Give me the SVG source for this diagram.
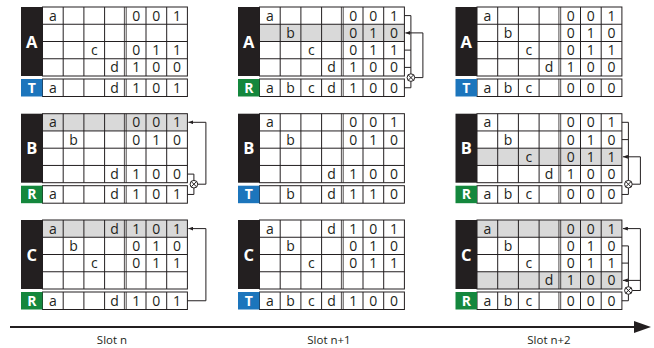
<svg xmlns="http://www.w3.org/2000/svg" xmlns:xlink="http://www.w3.org/1999/xlink" width="654" height="348" viewBox="0 0 654 348">
<style>
.gl{fill:none;stroke:#231f20;stroke-width:1}
.dl{fill:none;stroke:#231f20;stroke-width:0.8}
.hl{fill:#d9d9d9}
.bar{fill:#231f20}
.tb{fill:#1c75bc}
.rb{fill:#14873d}
.ct{font-family:"Open Sans","Liberation Sans",sans-serif;font-size:14px;fill:#231f20;text-anchor:middle}
.bl{font-family:"Open Sans","Liberation Sans",sans-serif;font-weight:bold;font-size:16.5px;fill:#fff;text-anchor:middle}
.sl{font-family:"Open Sans","Liberation Sans",sans-serif;font-weight:bold;font-size:14px;fill:#fff;text-anchor:middle}
.cn{fill:none;stroke:#231f20;stroke-width:1}
.ax{font-family:"Open Sans","Liberation Sans",sans-serif;font-size:11.5px;fill:#231f20;text-anchor:middle}
</style>
<defs>
<g id="grid">
<rect class="gl" x="21.5" y="0" width="144.9" height="69"/>
<path class="gl" d="M21.5 17.25H166.4M21.5 34.5H166.4M21.5 51.75H166.4M42.2 0V69M62.9 0V69M83.6 0V69M125 0V69M145.7 0V69"/>
<path class="dl" d="M103.4 0V69M105.2 0V69M103.4 72V89.5M105.2 72V89.5"/>
<rect class="gl" x="21.5" y="72" width="144.9" height="17.5"/>
<path class="gl" d="M42.2 72V89.5M62.9 72V89.5M83.6 72V89.5M125 72V89.5M145.7 72V89.5"/>
</g>
<g id="xor" class="cn"><circle r="3.8"/><path d="M-2.7 -2.7L2.7 2.7M2.7 -2.7L-2.7 2.7"/></g>
<marker id="ah" markerUnits="userSpaceOnUse" markerWidth="5" markerHeight="4" refX="5" refY="2" orient="auto"><path d="M0 0L5 2L0 4z" fill="#231f20"/></marker>
</defs>
<rect width="654" height="348" fill="#fff"/>

<!-- Slot n -->
<g id="A-slot-n" transform="translate(21,7)">
<use href="#grid"/>
<rect class="bar" width="21.5" height="69"/><text class="bl" x="10.75" y="40.5">A</text>
<rect class="tb" y="72" width="21.5" height="17.5"/><text class="sl" x="10.75" y="85.8">T</text>
<text class="ct" x="31.85" y="13.6">a</text><text class="ct" x="115.15" y="13.6">0</text><text class="ct" x="135.35" y="13.6">0</text><text class="ct" x="156.05" y="13.6">1</text>
<text class="ct" x="73.25" y="48.1">c</text><text class="ct" x="115.15" y="48.1">0</text><text class="ct" x="135.35" y="48.1">1</text><text class="ct" x="156.05" y="48.1">1</text>
<text class="ct" x="93.45" y="65.4">d</text><text class="ct" x="115.15" y="65.4">1</text><text class="ct" x="135.35" y="65.4">0</text><text class="ct" x="156.05" y="65.4">0</text>
<text class="ct" x="31.85" y="85.7">a</text><text class="ct" x="93.45" y="85.7">d</text><text class="ct" x="115.15" y="85.7">1</text><text class="ct" x="135.35" y="85.7">0</text><text class="ct" x="156.05" y="85.7">1</text>
</g>

<g id="B-slot-n" transform="translate(21,113.7)">
<rect class="hl" x="21.5" y="0" width="144.9" height="17.25"/>
<use href="#grid"/>
<rect class="bar" width="21.5" height="69"/><text class="bl" x="10.75" y="40.5">B</text>
<rect class="rb" y="72" width="21.5" height="17.5"/><text class="sl" x="10.75" y="85.8">R</text>
<text class="ct" x="31.85" y="13.6">a</text><text class="ct" x="115.15" y="13.6">0</text><text class="ct" x="135.35" y="13.6">0</text><text class="ct" x="156.05" y="13.6">1</text>
<text class="ct" x="52.55" y="30.9">b</text><text class="ct" x="115.15" y="30.9">0</text><text class="ct" x="135.35" y="30.9">1</text><text class="ct" x="156.05" y="30.9">0</text>
<text class="ct" x="93.45" y="65.4">d</text><text class="ct" x="115.15" y="65.4">1</text><text class="ct" x="135.35" y="65.4">0</text><text class="ct" x="156.05" y="65.4">0</text>
<text class="ct" x="31.85" y="85.7">a</text><text class="ct" x="93.45" y="85.7">d</text><text class="ct" x="115.15" y="85.7">1</text><text class="ct" x="135.35" y="85.7">0</text><text class="ct" x="156.05" y="85.7">1</text>
</g>

<g id="C-slot-n" transform="translate(21,220)">
<rect class="hl" x="21.5" y="0" width="144.9" height="17.25"/>
<use href="#grid"/>
<rect class="bar" width="21.5" height="69"/><text class="bl" x="10.75" y="40.5">C</text>
<rect class="rb" y="72" width="21.5" height="17.5"/><text class="sl" x="10.75" y="85.8">R</text>
<text class="ct" x="31.85" y="13.6">a</text><text class="ct" x="93.45" y="13.6">d</text><text class="ct" x="115.15" y="13.6">1</text><text class="ct" x="135.35" y="13.6">0</text><text class="ct" x="156.05" y="13.6">1</text>
<text class="ct" x="52.55" y="30.9">b</text><text class="ct" x="115.15" y="30.9">0</text><text class="ct" x="135.35" y="30.9">1</text><text class="ct" x="156.05" y="30.9">0</text>
<text class="ct" x="73.25" y="48.1">c</text><text class="ct" x="115.15" y="48.1">0</text><text class="ct" x="135.35" y="48.1">1</text><text class="ct" x="156.05" y="48.1">1</text>
<text class="ct" x="31.85" y="85.7">a</text><text class="ct" x="93.45" y="85.7">d</text><text class="ct" x="115.15" y="85.7">1</text><text class="ct" x="135.35" y="85.7">0</text><text class="ct" x="156.05" y="85.7">1</text>
</g>

<!-- Slot n+1 -->
<g id="A-slot-n1" transform="translate(238,7)">
<rect class="hl" x="21.5" y="17.25" width="144.9" height="17.25"/>
<use href="#grid"/>
<rect class="bar" width="21.5" height="69"/><text class="bl" x="10.75" y="40.5">A</text>
<rect class="rb" y="72" width="21.5" height="17.5"/><text class="sl" x="10.75" y="85.8">R</text>
<text class="ct" x="31.85" y="13.6">a</text><text class="ct" x="115.15" y="13.6">0</text><text class="ct" x="135.35" y="13.6">0</text><text class="ct" x="156.05" y="13.6">1</text>
<text class="ct" x="52.55" y="30.9">b</text><text class="ct" x="115.15" y="30.9">0</text><text class="ct" x="135.35" y="30.9">1</text><text class="ct" x="156.05" y="30.9">0</text>
<text class="ct" x="73.25" y="48.1">c</text><text class="ct" x="115.15" y="48.1">0</text><text class="ct" x="135.35" y="48.1">1</text><text class="ct" x="156.05" y="48.1">1</text>
<text class="ct" x="93.45" y="65.4">d</text><text class="ct" x="115.15" y="65.4">1</text><text class="ct" x="135.35" y="65.4">0</text><text class="ct" x="156.05" y="65.4">0</text>
<text class="ct" x="31.85" y="85.7">a</text><text class="ct" x="52.55" y="85.7">b</text><text class="ct" x="73.25" y="85.7">c</text><text class="ct" x="93.45" y="85.7">d</text><text class="ct" x="115.15" y="85.7">1</text><text class="ct" x="135.35" y="85.7">0</text><text class="ct" x="156.05" y="85.7">0</text>
</g>

<g id="B-slot-n1" transform="translate(238,113.7)">
<use href="#grid"/>
<rect class="bar" width="21.5" height="69"/><text class="bl" x="10.75" y="40.5">B</text>
<rect class="tb" y="72" width="21.5" height="17.5"/><text class="sl" x="10.75" y="85.8">T</text>
<text class="ct" x="31.85" y="13.6">a</text><text class="ct" x="115.15" y="13.6">0</text><text class="ct" x="135.35" y="13.6">0</text><text class="ct" x="156.05" y="13.6">1</text>
<text class="ct" x="52.55" y="30.9">b</text><text class="ct" x="115.15" y="30.9">0</text><text class="ct" x="135.35" y="30.9">1</text><text class="ct" x="156.05" y="30.9">0</text>
<text class="ct" x="93.45" y="65.4">d</text><text class="ct" x="115.15" y="65.4">1</text><text class="ct" x="135.35" y="65.4">0</text><text class="ct" x="156.05" y="65.4">0</text>
<text class="ct" x="52.55" y="85.7">b</text><text class="ct" x="93.45" y="85.7">d</text><text class="ct" x="115.15" y="85.7">1</text><text class="ct" x="135.35" y="85.7">1</text><text class="ct" x="156.05" y="85.7">0</text>
</g>

<g id="C-slot-n1" transform="translate(238,220)">
<use href="#grid"/>
<rect class="bar" width="21.5" height="69"/><text class="bl" x="10.75" y="40.5">C</text>
<rect class="tb" y="72" width="21.5" height="17.5"/><text class="sl" x="10.75" y="85.8">T</text>
<text class="ct" x="31.85" y="13.6">a</text><text class="ct" x="93.45" y="13.6">d</text><text class="ct" x="115.15" y="13.6">1</text><text class="ct" x="135.35" y="13.6">0</text><text class="ct" x="156.05" y="13.6">1</text>
<text class="ct" x="52.55" y="30.9">b</text><text class="ct" x="115.15" y="30.9">0</text><text class="ct" x="135.35" y="30.9">1</text><text class="ct" x="156.05" y="30.9">0</text>
<text class="ct" x="73.25" y="48.1">c</text><text class="ct" x="115.15" y="48.1">0</text><text class="ct" x="135.35" y="48.1">1</text><text class="ct" x="156.05" y="48.1">1</text>
<text class="ct" x="31.85" y="85.7">a</text><text class="ct" x="52.55" y="85.7">b</text><text class="ct" x="73.25" y="85.7">c</text><text class="ct" x="93.45" y="85.7">d</text><text class="ct" x="115.15" y="85.7">1</text><text class="ct" x="135.35" y="85.7">0</text><text class="ct" x="156.05" y="85.7">0</text>
</g>

<!-- Slot n+2 -->
<g id="A-slot-n2" transform="translate(455.5,7)">
<use href="#grid"/>
<rect class="bar" width="21.5" height="69"/><text class="bl" x="10.75" y="40.5">A</text>
<rect class="tb" y="72" width="21.5" height="17.5"/><text class="sl" x="10.75" y="85.8">T</text>
<text class="ct" x="31.85" y="13.6">a</text><text class="ct" x="115.15" y="13.6">0</text><text class="ct" x="135.35" y="13.6">0</text><text class="ct" x="156.05" y="13.6">1</text>
<text class="ct" x="52.55" y="30.9">b</text><text class="ct" x="115.15" y="30.9">0</text><text class="ct" x="135.35" y="30.9">1</text><text class="ct" x="156.05" y="30.9">0</text>
<text class="ct" x="73.25" y="48.1">c</text><text class="ct" x="115.15" y="48.1">0</text><text class="ct" x="135.35" y="48.1">1</text><text class="ct" x="156.05" y="48.1">1</text>
<text class="ct" x="93.45" y="65.4">d</text><text class="ct" x="115.15" y="65.4">1</text><text class="ct" x="135.35" y="65.4">0</text><text class="ct" x="156.05" y="65.4">0</text>
<text class="ct" x="31.85" y="85.7">a</text><text class="ct" x="52.55" y="85.7">b</text><text class="ct" x="73.25" y="85.7">c</text><text class="ct" x="115.15" y="85.7">0</text><text class="ct" x="135.35" y="85.7">0</text><text class="ct" x="156.05" y="85.7">0</text>
</g>

<g id="B-slot-n2" transform="translate(455.5,113.7)">
<rect class="hl" x="21.5" y="34.5" width="144.9" height="17.25"/>
<use href="#grid"/>
<rect class="bar" width="21.5" height="69"/><text class="bl" x="10.75" y="40.5">B</text>
<rect class="rb" y="72" width="21.5" height="17.5"/><text class="sl" x="10.75" y="85.8">R</text>
<text class="ct" x="31.85" y="13.6">a</text><text class="ct" x="115.15" y="13.6">0</text><text class="ct" x="135.35" y="13.6">0</text><text class="ct" x="156.05" y="13.6">1</text>
<text class="ct" x="52.55" y="30.9">b</text><text class="ct" x="115.15" y="30.9">0</text><text class="ct" x="135.35" y="30.9">1</text><text class="ct" x="156.05" y="30.9">0</text>
<text class="ct" x="73.25" y="48.1">c</text><text class="ct" x="115.15" y="48.1">0</text><text class="ct" x="135.35" y="48.1">1</text><text class="ct" x="156.05" y="48.1">1</text>
<text class="ct" x="93.45" y="65.4">d</text><text class="ct" x="115.15" y="65.4">1</text><text class="ct" x="135.35" y="65.4">0</text><text class="ct" x="156.05" y="65.4">0</text>
<text class="ct" x="31.85" y="85.7">a</text><text class="ct" x="52.55" y="85.7">b</text><text class="ct" x="73.25" y="85.7">c</text><text class="ct" x="115.15" y="85.7">0</text><text class="ct" x="135.35" y="85.7">0</text><text class="ct" x="156.05" y="85.7">0</text>
</g>

<g id="C-slot-n2" transform="translate(455.5,220)">
<rect class="hl" x="21.5" y="0" width="144.9" height="17.25"/>
<rect class="hl" x="21.5" y="51.75" width="144.9" height="17.25"/>
<use href="#grid"/>
<rect class="bar" width="21.5" height="69"/><text class="bl" x="10.75" y="40.5">C</text>
<rect class="rb" y="72" width="21.5" height="17.5"/><text class="sl" x="10.75" y="85.8">R</text>
<text class="ct" x="31.85" y="13.6">a</text><text class="ct" x="115.15" y="13.6">0</text><text class="ct" x="135.35" y="13.6">0</text><text class="ct" x="156.05" y="13.6">1</text>
<text class="ct" x="52.55" y="30.9">b</text><text class="ct" x="115.15" y="30.9">0</text><text class="ct" x="135.35" y="30.9">1</text><text class="ct" x="156.05" y="30.9">0</text>
<text class="ct" x="73.25" y="48.1">c</text><text class="ct" x="115.15" y="48.1">0</text><text class="ct" x="135.35" y="48.1">1</text><text class="ct" x="156.05" y="48.1">1</text>
<text class="ct" x="93.45" y="65.4">d</text><text class="ct" x="115.15" y="65.4">1</text><text class="ct" x="135.35" y="65.4">0</text><text class="ct" x="156.05" y="65.4">0</text>
<text class="ct" x="31.85" y="85.7">a</text><text class="ct" x="52.55" y="85.7">b</text><text class="ct" x="73.25" y="85.7">c</text><text class="ct" x="115.15" y="85.7">0</text><text class="ct" x="135.35" y="85.7">0</text><text class="ct" x="156.05" y="85.7">0</text>
</g>

<g id="connectors">
<path class="cn" d="M404.4 15.6H410.9V73.8M404.4 50.1H410.9M404.4 67.4H410.9M404.4 87.75H410.9V81.4"/>
<use href="#xor" x="410.9" y="77.6"/>
<path class="cn" marker-end="url(#ah)" d="M414.7 77.6H422.9V32.9H405.4"/>

<path class="cn" d="M187.4 174.1H193.9V180.4M187.4 194.45H193.9V188"/>
<use href="#xor" x="193.9" y="184.2"/>
<path class="cn" marker-end="url(#ah)" d="M197.7 184.2H205.9V122.3H188.4"/>

<path class="cn" marker-end="url(#ah)" d="M187.4 300.75H205.9V228.6H188.4"/>

<path class="cn" d="M621.9 122.3H628.4V180.4M621.9 139.6H628.4M621.9 194.45H628.4V188"/>
<use href="#xor" x="628.4" y="184.2"/>
<path class="cn" marker-end="url(#ah)" d="M632.2 184.2H640.4V156.8H622.9"/>

<path class="cn" d="M621.9 245.9H628.4V286.7M621.9 263.1H628.4M621.9 300.75H628.4V294.3"/>
<use href="#xor" x="628.4" y="290.5"/>
<path class="cn" marker-end="url(#ah)" d="M632.2 290.5H640.4V228.6H622.9"/>
<path class="cn" marker-end="url(#ah)" d="M640.4 280.4H622.9"/>
</g>

<g id="time-axis">
<path d="M10 327H637" stroke="#231f20" stroke-width="2.2" fill="none"/>
<polygon points="634,321 651,327 634,333" fill="#231f20"/>
<text class="ax" x="112" y="344">Slot n</text>
<text class="ax" x="329" y="344">Slot n+1</text>
<text class="ax" x="549" y="344">Slot n+2</text>
</g>
</svg>
